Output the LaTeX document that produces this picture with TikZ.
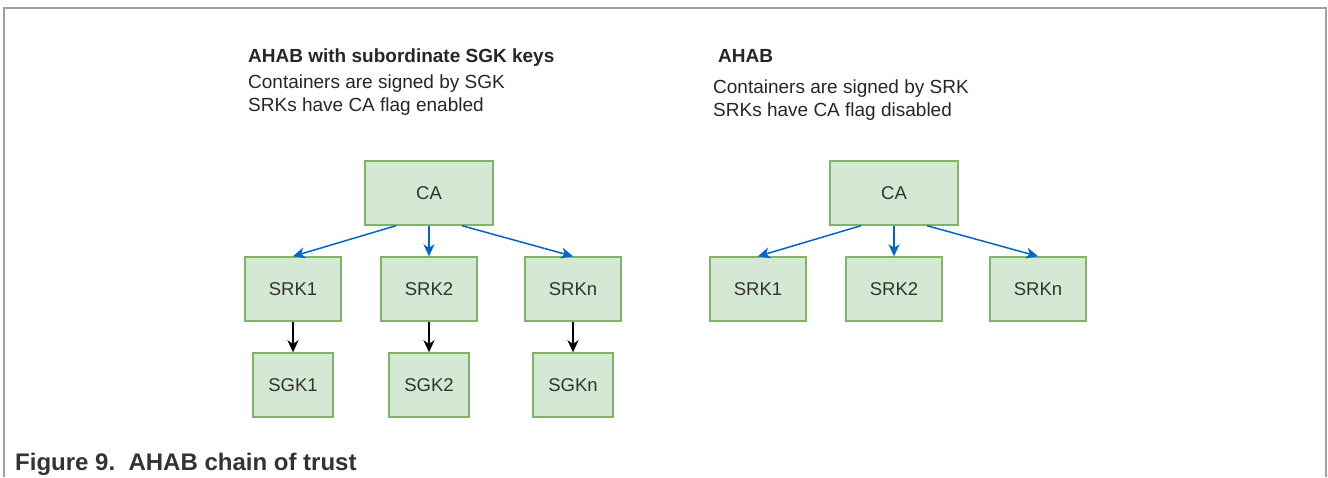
\documentclass[tikz,border=0pt]{standalone}
\usepackage{fontspec}
\setmainfont{Liberation Sans}
\usetikzlibrary{arrows.meta}

\definecolor{keyfill}{HTML}{D5E8D4}
\definecolor{keyline}{HTML}{82B366}
\definecolor{trustblue}{HTML}{0066CC}

\begin{document}
\begin{tikzpicture}[x=1pt,y=-1pt,
            key node/.style={rectangle,draw=keyline,fill=keyfill,line width=1.4pt,
                minimum height=64pt,inner sep=0pt,text=black!80,
                font=\fontsize{18.5}{22}\selectfont},
            srk node/.style={key node,minimum width=96pt},
            sgk node/.style={key node,minimum width=80pt},
            ca node/.style={key node,minimum width=128pt},
            note/.style={anchor=base west,inner sep=0pt,text=black!85,
                font=\fontsize{19}{22}\selectfont},
            sign edge/.style={draw,-{Stealth[length=12pt,width=11pt,inset=3.5pt]},line width=1.5pt}]

        \useasboundingbox (0,0) rectangle (1328,477);
        \draw[gray!75,line width=1.6pt] (4,477) -- (4,8) -- (1326,8) -- (1326,477);

        % left: with subordinate SGK keys
        \node[note,font=\fontsize{19}{22}\selectfont\bfseries] (headL) at (248,62) {AHAB with subordinate SGK keys};
        \node[note] (textLa) at (248,88) {Containers are signed by SGK};
        \node[note] (textLb) at (248,111) {SRKs have CA flag enabled};

        \node[ca node] (caL) at (429,193) {CA};
        \node[srk node] (srkLa) at (293,289) {SRK1};
        \node[srk node] (srkLb) at (429,289) {SRK2};
        \node[srk node] (srkLn) at (573,289) {SRKn};
        \node[sgk node] (sgkLa) at (293,385) {SGK1};
        \node[sgk node] (sgkLb) at (429,385) {SGK2};
        \node[sgk node] (sgkLn) at (573,385) {SGKn};

        \path[every edge/.style={sign edge,trustblue}]
        ([xshift=-33pt]caL.south) edge (srkLa.north)
        (caL.south) edge (srkLb.north)
        ([xshift=33pt]caL.south) edge (srkLn.north);
        \path[every edge/.style={sign edge,black}]
        (srkLa) edge (sgkLa)
        (srkLb) edge (sgkLb)
        (srkLn) edge (sgkLn);

        % right: plain AHAB
        \node[note,font=\fontsize{19}{22}\selectfont\bfseries] (headR) at (718,62) {AHAB};
        \node[note] (textRa) at (713,93) {Containers are signed by SRK};
        \node[note] (textRb) at (713,116) {SRKs have CA flag disabled};

        \node[ca node] (caR) at (894,193) {CA};
        \node[srk node] (srkRa) at (758,289) {SRK1};
        \node[srk node] (srkRb) at (894,289) {SRK2};
        \node[srk node] (srkRn) at (1038,289) {SRKn};

        \path[every edge/.style={sign edge,trustblue}]
        ([xshift=-33pt]caR.south) edge (srkRa.north)
        (caR.south) edge (srkRb.north)
        ([xshift=33pt]caR.south) edge (srkRn.north);

        \node[note,text=black!80,font=\fontsize{24}{26}\selectfont\bfseries] (caption) at (15,470) {Figure 9.\ \ AHAB chain of trust};

    \end{tikzpicture}
\end{document}
